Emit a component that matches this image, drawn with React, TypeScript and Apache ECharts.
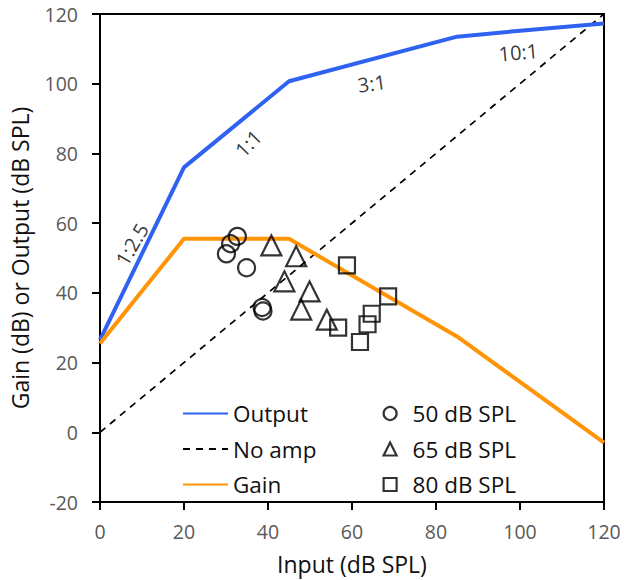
import React, { useEffect, useRef } from "react";
import * as echarts from "echarts";

const outputCurve: number[][] = [
  [0, 26.5], [20, 76], [45, 100.7], [85, 113.5], [100, 115.2], [120, 117.3],
];
const noAmpLine: number[][] = [
  [0, 0], [120, 120],
];
const gainCurve: number[][] = [
  [0, 25.5], [9, 39], [20, 55.5], [45, 55.5], [85, 27.5], [120, -3],
];
const spl50: number[][] = [
  [30.1, 51.2], [31.1, 54.1], [32.7, 56.2], [34.9, 47.2], [38.6, 35.8], [38.8, 34.8],
];
const spl65: number[][] = [
  [40.8, 53.6], [46.7, 50.5], [43.9, 43.3], [49.9, 40.4], [47.9, 35.2], [54.0, 32.3],
];
const spl80: number[][] = [
  [58.8, 47.9], [56.7, 30.0], [61.9, 25.9], [63.7, 31.0], [64.7, 34.0], [68.6, 39.0],
];
const ratioLabels: { text: string; x: number; y: number; rot: number }[] = [
  { text: "1:2.5", x: 7.6, y: 53.9, rot: 60 },
  { text: "1:1", x: 35.3, y: 82.9, rot: 46 },
  { text: "3:1", x: 64.7, y: 100.1, rot: 8 },
  { text: "10:1", x: 99.6, y: 109.0, rot: 5 },
];
const xTicks = { min: 0, max: 120, interval: 20 };
const yTicks = { min: -20, max: 120, interval: 20 };

const FONT = "Open Sans";

export default function App() {
  const ref = useRef<HTMLDivElement>(null);
  useEffect(() => {
    document.body.style.margin = "0";
    const chart = echarts.init(ref.current!, undefined, { renderer: "svg" });
    const markerStyle = { color: "rgba(0,0,0,0)", borderColor: "#000", borderWidth: 2.2 };
    const legendText = { fontFamily: FONT, fontSize: 22.5, color: "#111" };
    chart.setOption({
      animation: false,
      textStyle: { fontFamily: FONT },
      grid: {
        left: 98, right: 20, top: 14, bottom: 77,
        show: true, borderColor: "#000", borderWidth: 2, backgroundColor: "transparent",
      },
      xAxis: {
        type: "value", ...xTicks,
        name: "Input (dB SPL)", nameLocation: "middle", nameGap: 50,
        nameTextStyle: { fontFamily: FONT, fontSize: 23, color: "#111" },
        axisLine: { show: true, onZero: false, lineStyle: { color: "#000", width: 2 } },
        axisTick: { show: true, length: 8, lineStyle: { color: "#000", width: 2 } },
        axisLabel: { fontFamily: FONT, fontSize: 19.5, color: "#595959", margin: 19 },
        splitLine: { show: false },
      },
      yAxis: {
        type: "value", ...yTicks,
        name: "Gain (dB) or Output (dB SPL)", nameLocation: "middle", nameGap: 69,
        nameTextStyle: { fontFamily: FONT, fontSize: 23, color: "#111" },
        axisLine: { show: true, onZero: false, lineStyle: { color: "#000", width: 2 } },
        axisTick: { show: true, length: 8, lineStyle: { color: "#000", width: 2 } },
        axisLabel: { fontFamily: FONT, fontSize: 19.5, color: "#595959", margin: 22 },
        splitLine: { show: false },
      },
      legend: [
        {
          orient: "vertical", left: 182, top: 402, padding: 0,
          itemWidth: 45, itemHeight: 14, itemGap: 12.5,
          textStyle: legendText,
          itemStyle: { opacity: 0 },
          data: ["Output", "No amp", "Gain"],
        },
        {
          orient: "vertical", left: 382.5, top: 402, padding: 0,
          itemWidth: 13, itemHeight: 13, itemGap: 12.5,
          symbolKeepAspect: true,
          textStyle: { ...legendText, padding: [0, 0, 0, 11] },
          data: [
            { name: "50 dB SPL", icon: "circle", itemStyle: markerStyle },
            { name: "65 dB SPL", icon: "triangle", itemStyle: markerStyle },
            { name: "80 dB SPL", icon: "rect", itemStyle: markerStyle },
          ],
        },
      ],
      series: [
        {
          name: "No amp", type: "line", data: noAmpLine, symbol: "none", z: 2,
          lineStyle: { color: "#000", width: 1.7, type: [7, 6] },
          itemStyle: { color: "#000" },
        },
        {
          name: "Output", type: "line", data: outputCurve, symbol: "none", z: 3,
          lineStyle: { color: "#2f62f0", width: 4 },
          itemStyle: { color: "#2f62f0" },
        },
        {
          name: "Gain", type: "line", data: gainCurve, symbol: "none", z: 3,
          lineStyle: { color: "#ff9407", width: 4 },
          itemStyle: { color: "#ff9407" },
        },
        {
          name: "50 dB SPL", type: "scatter", data: spl50, symbol: "circle", symbolSize: 17,
          symbolKeepAspect: true, itemStyle: markerStyle, z: 5,
        },
        {
          name: "65 dB SPL", type: "scatter", data: spl65, symbol: "triangle", symbolSize: 20,
          symbolKeepAspect: true, itemStyle: markerStyle, z: 5,
        },
        {
          name: "80 dB SPL", type: "scatter", data: spl80, symbol: "rect", symbolSize: 16,
          symbolKeepAspect: true, itemStyle: markerStyle, z: 5,
        },
        {
          name: "ratios", type: "scatter", symbolSize: 0, z: 6, silent: true,
          data: ratioLabels.map((r) => ({
            value: [r.x, r.y],
            label: {
              show: true, position: "inside", rotate: r.rot, formatter: r.text,
              fontFamily: FONT, fontSize: 20, color: "#000",
            },
          })),
        },
      ],
    });
    return () => chart.dispose();
  }, []);
  return <div ref={ref} style={{ width: 624, height: 580 }} />;
}
